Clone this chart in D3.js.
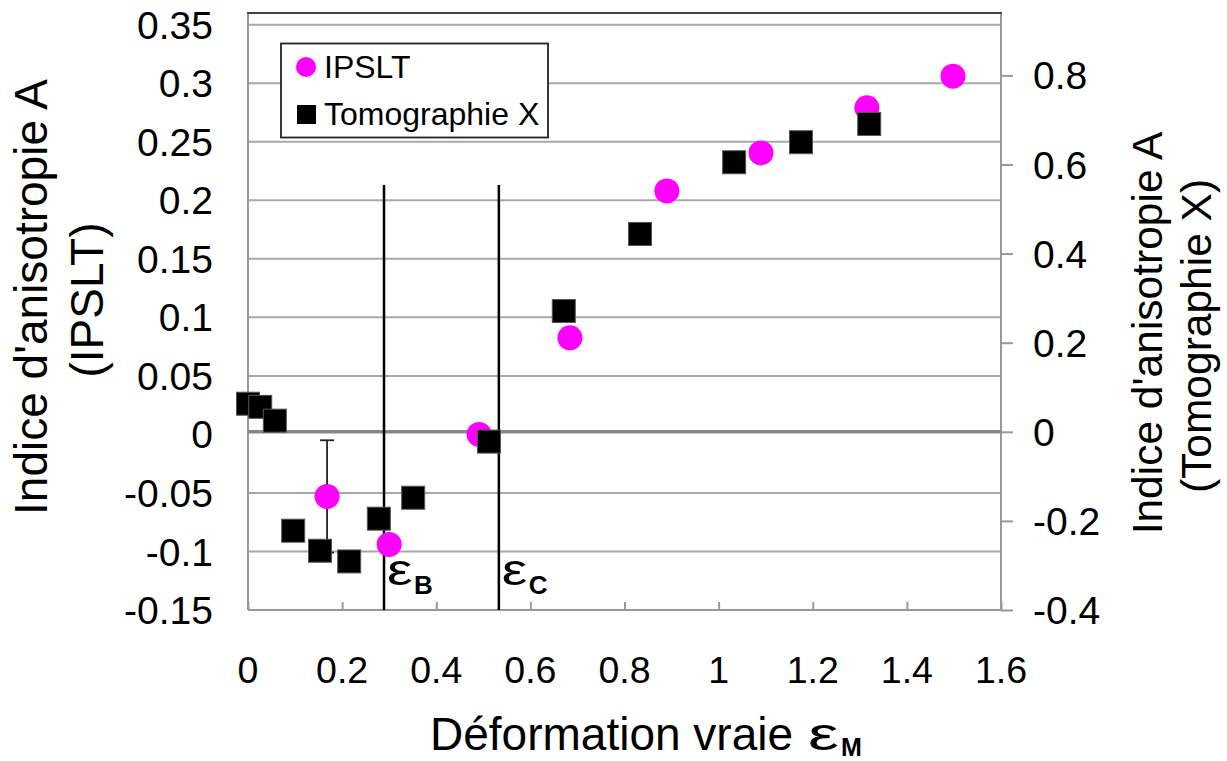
<!DOCTYPE html>
<html><head><meta charset="utf-8">
<script src="https://cdn.jsdelivr.net/npm/d3@7"></script>
<style>
html,body{margin:0;padding:0;background:#fff;}
svg{display:block;font-family:"Liberation Sans",Arial,sans-serif;}
</style></head>
<body>
<svg id="chart" width="1227" height="761"></svg>
<script>
// ---- data ----
const ipsltX = [0.168, 0.300, 0.491, 0.684, 0.890, 1.090, 1.315, 1.498];
const ipsltY = [-0.053, -0.094, 0.000, 0.0825, 0.208, 0.2405, 0.279, 0.306];
const ipsltErr = [0.048, 0, 0, 0, 0, 0, 0, 0];
const tomoX = [0.000, 0.026, 0.057, 0.096, 0.153, 0.215, 0.278, 0.351, 0.512, 0.671, 0.833, 1.033, 1.175, 1.320];
const tomoY = [0.063, 0.056, 0.025, -0.222, -0.267, -0.291, -0.195, -0.148, -0.022, 0.271, 0.444, 0.605, 0.650, 0.691];
const epsNames = ["B", "C"];
const epsX = [0.289, 0.533];
const epsTop = 0.213; // on left axis
const xTicks = [0, 0.2, 0.4, 0.6, 0.8, 1, 1.2, 1.4, 1.6];
const xTickLabels = ["0", "0.2", "0.4", "0.6", "0.8", "1", "1.2", "1.4", "1.6"];
const yLTicks = [-0.15, -0.1, -0.05, 0, 0.05, 0.1, 0.15, 0.2, 0.25, 0.3, 0.35];
const yLTickLabels = ["-0.15", "-0.1", "-0.05", "0", "0.05", "0.1", "0.15", "0.2", "0.25", "0.3", "0.35"];
const yRTicks = [-0.4, -0.2, 0, 0.2, 0.4, 0.6, 0.8];
const yRTickLabels = ["-0.4", "-0.2", "0", "0.2", "0.4", "0.6", "0.8"];
const seriesNames = ["IPSLT", "Tomographie X"];

// ---- layout ----
const L = 248, R = 1001, T = 13, B = 610;
const svg = d3.select("#chart");
const x = d3.scaleLinear().domain([0, 1.6]).range([L, R]);
const yL = d3.scaleLinear().domain([-0.15, 0.36]).range([B, T]);
const yR = d3.scaleLinear().domain([-0.4, 0.94]).range([B, T]);

// gridlines
svg.append("g").selectAll("line").data(yLTicks.filter(v => v !== -0.15 && v !== 0)).join("line")
  .attr("x1", L).attr("x2", R).attr("y1", d => yL(d)).attr("y2", d => yL(d))
  .attr("stroke", "#a8a8a8").attr("stroke-width", 2);

// x axis (ticks inward)
const xAxis = d3.axisTop(x).tickValues(xTicks).tickSize(8).tickFormat("");
const gx = svg.append("g").attr("transform", `translate(0,${B})`).call(xAxis);
gx.select(".domain").remove();
gx.selectAll("line").attr("stroke", "#999").attr("stroke-width", 2);
svg.append("g").selectAll("text").data(xTicks).join("text")
  .attr("x", d => x(d)).attr("y", 683).attr("text-anchor", "middle")
  .attr("font-size", 37.5).attr("fill", "#000").text((d, i) => xTickLabels[i]);

// left axis labels
svg.append("g").selectAll("text").data(yLTicks).join("text")
  .attr("x", 213).attr("y", d => yL(d)).attr("dy", "0.36em").attr("text-anchor", "end")
  .attr("font-size", 39).attr("fill", "#000").text((d, i) => yLTickLabels[i]);

// right axis
const rAxis = d3.axisRight(yR).tickValues(yRTicks).tickSize(12).tickFormat("");
const gr = svg.append("g").attr("transform", `translate(${R},0)`).call(rAxis);
gr.select(".domain").remove();
gr.selectAll("line").attr("stroke", "#999").attr("stroke-width", 2);
svg.append("g").selectAll("text").data(yRTicks).join("text")
  .attr("x", 1033).attr("y", d => yR(d)).attr("dy", "0.36em").attr("text-anchor", "start")
  .attr("font-size", 39).attr("fill", "#000").text((d, i) => yRTickLabels[i]);

// frame
svg.append("line").attr("x1", L).attr("x2", L).attr("y1", T).attr("y2", B).attr("stroke", "#999").attr("stroke-width", 2);
svg.append("line").attr("x1", R).attr("x2", R).attr("y1", T).attr("y2", B).attr("stroke", "#999").attr("stroke-width", 2);
svg.append("line").attr("x1", L).attr("x2", R).attr("y1", B).attr("y2", B).attr("stroke", "#999").attr("stroke-width", 2);
svg.append("line").attr("x1", L - 1).attr("x2", R + 1).attr("y1", T).attr("y2", T).attr("stroke", "#444").attr("stroke-width", 2);
// zero line
svg.append("line").attr("x1", L).attr("x2", R).attr("y1", yR(0)).attr("y2", yR(0)).attr("stroke", "#888").attr("stroke-width", 3.5);

// epsilon lines
svg.append("g").selectAll("line").data(epsX).join("line")
  .attr("x1", d => x(d)).attr("x2", d => x(d)).attr("y1", yL(epsTop)).attr("y2", B)
  .attr("stroke", "#000").attr("stroke-width", 2.5);
const epsG = svg.append("g");
epsX.forEach((xv, i) => {
  const lx = x(xv);
  epsG.append("text").attr("transform", `translate(${lx + 3},585) scale(1.3,1)`)
    .attr("font-size", 44).attr("fill", "#000").text("ε");
  epsG.append("text").attr("x", lx + 30).attr("y", 594)
    .attr("font-size", 26).attr("font-weight", "bold").attr("fill", "#000").text(epsNames[i]);
});

// error bars
const eb = svg.append("g");
ipsltX.forEach((xv, i) => {
  const e = ipsltErr[i];
  if (!e) return;
  const cx = x(xv), y1 = yL(ipsltY[i] + e), y2 = yL(ipsltY[i] - e);
  eb.append("line").attr("x1", cx).attr("x2", cx).attr("y1", y1).attr("y2", y2).attr("stroke", "#222").attr("stroke-width", 1.8);
  [y1, y2].forEach(yy => eb.append("line").attr("x1", cx - 7).attr("x2", cx + 7).attr("y1", yy).attr("y2", yy).attr("stroke", "#222").attr("stroke-width", 1.8));
});

// IPSLT circles
svg.append("g").selectAll("circle").data(ipsltX).join("circle")
  .attr("cx", d => x(d)).attr("cy", (d, i) => yL(ipsltY[i])).attr("r", 12.5)
  .attr("fill", "#ff00ff");

// Tomographie squares
const sq = 23;
svg.append("g").selectAll("rect").data(tomoX).join("rect")
  .attr("x", d => x(d) - sq / 2).attr("y", (d, i) => yR(tomoY[i]) - sq / 2)
  .attr("width", sq).attr("height", sq).attr("fill", "#000").attr("stroke", "#555").attr("stroke-width", 1);

// legend
const lg = svg.append("g");
lg.append("rect").attr("x", 281).attr("y", 43.5).attr("width", 267).attr("height", 94)
  .attr("fill", "#fff").attr("stroke", "#222").attr("stroke-width", 1.8);
lg.append("circle").attr("cx", 306).attr("cy", 67).attr("r", 10).attr("fill", "#ff00ff");
lg.append("rect").attr("x", 297).attr("y", 105).attr("width", 19).attr("height", 19).attr("fill", "#000");
lg.selectAll("text").data(seriesNames).join("text")
  .attr("x", 324).attr("y", (d, i) => 78 + i * 47).attr("font-size", 32).attr("fill", "#000").text(d => d);

// axis titles
const xt = svg.append("text").attr("x", 430).attr("y", 750).attr("font-size", 46).attr("fill", "#000")
  .text("Déformation vraie");
const xtw = xt.node().getComputedTextLength();
const epsStart = 430 + xtw + 15;
svg.append("text").attr("transform", `translate(${epsStart},750) scale(1.5,1)`)
  .attr("font-size", 46).attr("fill", "#000").text("ε");
svg.append("text").attr("x", epsStart + 33).attr("y", 756)
  .attr("font-size", 25).attr("font-weight", "bold").attr("fill", "#000").text("M");

const ltitle = ["Indice d'anisotropie A", "(IPSLT)"];
svg.append("g").selectAll("text").data(ltitle).join("text")
  .attr("transform", (d, i) => `translate(${i ? 103 : 47},${i ? 300 : 297}) rotate(-90)`)
  .attr("text-anchor", "middle").attr("font-size", 46).attr("fill", "#000").text(d => d);

const rtitle = ["Indice d'anisotropie A", "(Tomographie X)"];
svg.append("g").selectAll("text").data(rtitle).join("text")
  .attr("transform", (d, i) => `translate(${i ? 1211 : 1162},${i ? 336 : 333}) rotate(-90)`)
  .attr("text-anchor", "middle").attr("font-size", 42.5).attr("fill", "#000").text(d => d);
</script>
</body></html>
